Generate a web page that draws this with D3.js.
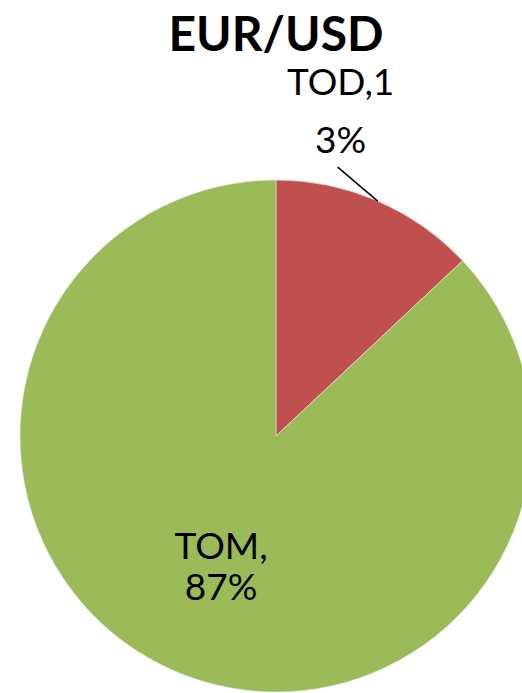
<!DOCTYPE html>
<html><head><meta charset="utf-8">
<script src="https://cdn.jsdelivr.net/npm/d3@7"></script>
<style>html,body{margin:0;padding:0;background:#fff;}svg{display:block;}</style>
</head><body>
<svg id="chart" width="522" height="693"></svg>
<script>
const title = "EUR/USD";
const categories = ["TOD", "TOM"];
const values = [13, 87];
const colors = ["#C0504D", "#9BBB59"];

const svg = d3.select("#chart");
const cx = 276, cy = 436, R = 256;
const g = svg.append("g").attr("transform", `translate(${cx},${cy})`);

const pie = d3.pie().sort(null).value(d => d.v);
const data = pie(categories.map((c, i) => ({c, v: values[i], col: colors[i]})));
const arc = d3.arc().innerRadius(0).outerRadius(R);

g.selectAll("path.slice").data(data).join("path")
  .attr("class", "slice")
  .attr("d", arc)
  .attr("fill", d => d.data.col)
  .attr("stroke", "#e8e8e8").attr("stroke-width", 0.6);

svg.append("text").attr("x", 276).attr("y", 51)
  .attr("text-anchor", "middle")
  .attr("font-family", "Lato, 'Open Sans', sans-serif")
  .attr("font-weight", "bold").attr("font-size", 48)
  .attr("fill", "#000").text(title);

const fnt = "Lato, 'Open Sans', sans-serif";
// TOD label (outside with leader line)
const tod = data[0];
const mid = (tod.startAngle + tod.endAngle) / 2;
const p1 = [R * Math.sin(mid), -R * Math.cos(mid)];
const p2 = [p1[0] - 40, p1[1] - 34];
g.append("line").attr("x1", p1[0]).attr("y1", p1[1]).attr("x2", p2[0]).attr("y2", p2[1])
  .attr("stroke", "#000").attr("stroke-width", 1.5);
g.append("text").attr("text-anchor", "middle")
  .attr("font-family", fnt).attr("font-size", 37).attr("fill", "#000")
  .attr("x", p2[0] + 3).attr("y", p2[1] - 72).text(tod.data.c + ",1");
g.append("text").attr("text-anchor", "middle")
  .attr("font-family", fnt).attr("font-size", 37).attr("fill", "#000")
  .attr("x", p2[0] + 3).attr("y", p2[1] - 14).text("3%");

// TOM label inside
const tom = data[1];
const inner = d3.arc().innerRadius(R * 0.54).outerRadius(R * 0.54);
const c = inner.centroid(tom);
g.append("text").attr("text-anchor", "middle")
  .attr("font-family", fnt).attr("font-size", 37).attr("fill", "#000")
  .attr("x", c[0]).attr("y", c[1] - 4).text(tom.data.c + ",");
g.append("text").attr("text-anchor", "middle")
  .attr("font-family", fnt).attr("font-size", 37).attr("fill", "#000")
  .attr("x", c[0]).attr("y", c[1] + 37).text(tom.data.v + "%");
</script>
</body></html>
